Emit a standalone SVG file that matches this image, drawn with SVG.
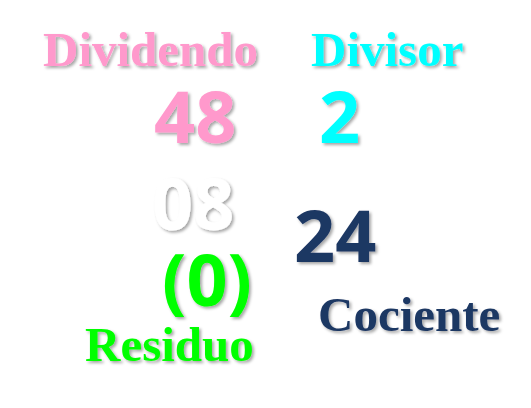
<svg xmlns="http://www.w3.org/2000/svg" width="531" height="408" viewBox="0 0 531 408">
<defs>
<filter id="sh" x="-20%" y="-20%" width="140%" height="140%">
<feDropShadow dx="2" dy="2" stdDeviation="1.5" flood-color="#000" flood-opacity="0.35"/>
</filter>
</defs>
<style>
.lbl{font-family:"Liberation Serif","DejaVu Serif",serif;font-weight:bold;font-size:49px;filter:url(#sh)}
.num{font-family:"Open Sans","Noto Sans",sans-serif;font-weight:bold;font-size:72px;filter:url(#sh)}
</style>
<rect width="531" height="408" fill="#fff"/>
<g id="dividendo"><text class="lbl" x="43" y="66" fill="#FF99CC">Dividendo</text></g>
<g id="divisor"><text class="lbl" x="311" y="66" fill="#00FFFF">Divisor</text></g>
<g id="n48"><text class="num" x="154" y="143" fill="#FF99CC">48</text></g>
<g id="n2"><text class="num" x="319" y="143" fill="#00FFFF">2</text></g>
<g id="n08"><text class="num" x="152" y="230" fill="#FFFFFF">08</text></g>
<g id="n24"><text class="num" x="294" y="262" fill="#1F3864">24</text></g>
<g id="n0"><text class="num" x="162" y="306" fill="#00FF00" font-size="75">(0)</text></g>
<g id="residuo"><text class="lbl" x="85" y="361" fill="#00FF00">Residuo</text></g>
<g id="cociente"><text class="lbl" x="318" y="331" fill="#1F3864">Cociente</text></g>
<g id="connectors"></g>
</svg>
